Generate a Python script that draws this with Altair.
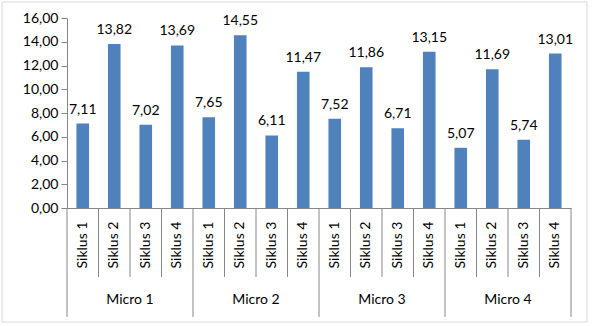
import altair as alt
import pandas as pd

# Measured values per cycle, grouped by micro unit
groups = ["Micro 1", "Micro 2", "Micro 3", "Micro 4"]
cycles = ["Siklus 1", "Siklus 2", "Siklus 3", "Siklus 4"]
values_micro1 = [7.11, 13.82, 7.02, 13.69]
values_micro2 = [7.65, 14.55, 6.11, 11.47]
values_micro3 = [7.52, 11.86, 6.71, 13.15]
values_micro4 = [5.07, 11.69, 5.74, 13.01]
y_ticks = [0, 2, 4, 6, 8, 10, 12, 14, 16]

series = [values_micro1, values_micro2, values_micro3, values_micro4]
rows = []
for g, (name, vals) in enumerate(zip(groups, series)):
    for c, (cyc, v) in enumerate(zip(cycles, vals)):
        rows.append({"idx": g * 4 + c, "group": name, "cycle": cyc, "value": v})
bars_df = pd.DataFrame(rows)

positions = list(range(len(rows) + 1))
minor_df = pd.DataFrame({"pos": [p for p in positions if p % 4 != 0]})
major_df = pd.DataFrame({"pos": [p for p in positions if p % 4 == 0]})

group_df = pd.DataFrame({"group": groups, "center": [g * 4 + 2 for g in range(len(groups))]})

FONT = "Lato"
FS = 14
BLUE = "#4F81BD"
AXIS = "#868686"

x_scale = alt.Scale(domain=[0, 16], nice=False, zero=False)
y_scale = alt.Scale(domain=[0, 16], nice=False)

# Shared axis definitions so every layer merges into the same axes
x_axis = alt.Axis(title=None, labels=False, ticks=False, grid=False,
                  domainColor=AXIS)
y_axis = alt.Axis(title=None, values=y_ticks, grid=False, labelOverlap=False,
                  labelExpr="replace(format(datum.value, '.2f'), '.', ',')",
                  labelFont=FONT, labelFontSize=FS, labelColor="#000000",
                  labelPadding=3, tickSize=6, tickColor=AXIS,
                  domainColor=AXIS)


def xpos(field):
    return alt.X(field, scale=x_scale, axis=x_axis)


base = alt.Chart(bars_df).transform_calculate(
    x0="datum.idx + 0.3",
    x1="datum.idx + 0.7",
    mid="datum.idx + 0.5",
    label="replace(format(datum.value, '.2f'), '.', ',')",
)

bars = base.mark_bar(color=BLUE).encode(
    x=xpos("x0:Q"),
    x2="x1:Q",
    y=alt.Y("value:Q", scale=y_scale, axis=y_axis),
    y2=alt.datum(0),
)

value_labels = base.mark_text(font=FONT, fontSize=FS, color="#000000",
                              baseline="alphabetic", dy=-10).encode(
    x=xpos("mid:Q"),
    y=alt.Y("value:Q", scale=y_scale, axis=y_axis),
    text="label:N",
)

cycle_labels = base.mark_text(font=FONT, fontSize=FS, color="#000000",
                              angle=270, align="center", baseline="middle").encode(
    x=xpos("mid:Q"),
    y=alt.value(227),
    text="cycle:N",
)

minor_seps = alt.Chart(minor_df).mark_rule(color=AXIS, strokeWidth=1).encode(
    x=xpos("pos:Q"),
    y=alt.value(190),
    y2=alt.value(259),
)

major_seps = alt.Chart(major_df).mark_rule(color=AXIS, strokeWidth=1).encode(
    x=xpos("pos:Q"),
    y=alt.value(190),
    y2=alt.value(299),
)

group_labels = alt.Chart(group_df).mark_text(
    font=FONT, fontSize=FS, color="#000000", align="center", baseline="middle"
).encode(
    x=xpos("center:Q"),
    y=alt.value(282),
    text="group:N",
)

frame = alt.Chart(pd.DataFrame({"k": [0]})).mark_rect(
    fill="transparent", stroke="#D9D9D9", strokeWidth=1
).encode(
    x=alt.value(-65), x2=alt.value(520), y=alt.value(-16), y2=alt.value(304)
)

chart = alt.layer(
    frame, bars, minor_seps, major_seps, value_labels, cycle_labels, group_labels
).properties(
    width=504, height=190,
    autosize=alt.AutoSizeParams(type="none"),
    padding={"left": 67, "top": 18, "right": 22, "bottom": 118},
    background="#FFFFFF",
).configure_view(stroke=None)

chart.save("out.html", embed_options={"renderer": "svg", "actions": False})
